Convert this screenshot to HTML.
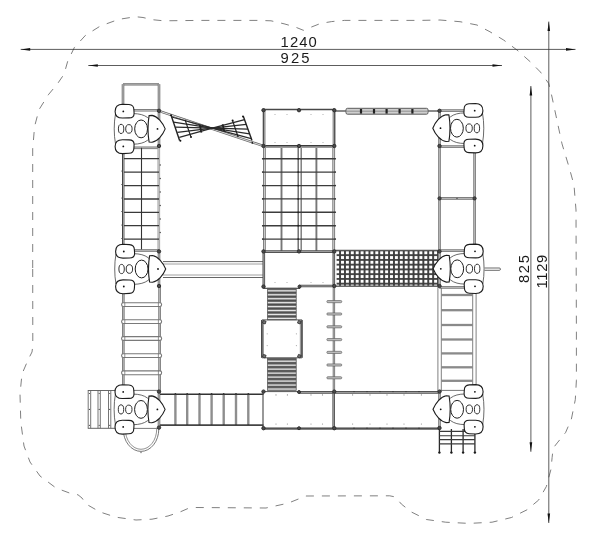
<!DOCTYPE html>
<html><head><meta charset="utf-8"><title>Plan</title>
<style>
html,body{margin:0;padding:0;background:#fff;}
body{width:600px;height:538px;overflow:hidden;font-family:"Liberation Sans",sans-serif;}
svg{display:block;}
</style></head><body>
<svg width="600" height="538" viewBox="0 0 600 538">
<rect width="600" height="538" fill="#fff"/>
<path d="M32.7,268 L32.7,148.7 L34.6,126.4 L39,109.7 L48.3,94.8 L57.6,83.6 L64,74.3 L67.7,61.3 L74.3,47.6 L85.5,35.3 L100.4,26 L119,19.3 L135.7,16.7 L143,17.5 L152.4,19.7 L163.6,20.8 L200,20.4 L258,20.4 L271,20.8 L284,23.8 L294.7,26.8 L303.4,30.3 L312,26.8 L320.7,23.4 L331.5,21.6 L344.5,20.4 L420,20.4 L440,20 L460,21.7 L477,25 L490,31.8 L503.6,40 L517,50 L530.4,61.9 L540.4,72 L548.8,83.6 L552,97 L557,120.4 L562,143.8 L569,167 L574,185 L576,210 L576.4,330 L576.4,380.3 L575.3,399.6 L571.4,419 L565.6,432.5 L557.9,442.1 L553.2,448 L552.1,457.6 L551,469.2 L546.3,486.6 L538.6,500.1 L527,509.8 L511.5,517.5 L492.1,522.2 L469,523.4 L445.7,522.2 L426.4,519.5 L411,511.8 L401.3,504 L395.5,497 L389.7,495.8 L306,496 L288,503.2 L266,508 L196,507.5 L188,508.5 L180,512 L168,516 L152,519.2 L136,520 L116,517.2 L100,512 L86,504 L82,498 L78,494.8 L70,493.2 L56,488 L40,476 L30,462 L24,446 L20.8,422 L20,394 L22,374 L28,360 L32,352 L32.8,346 L32.7,268" fill="none" stroke="#555" stroke-width="0.75" stroke-dasharray="8 8" stroke-linejoin="round"/>
<line x1="20.70" y1="49.40" x2="575.50" y2="49.40" stroke="#333" stroke-width="0.8" />
<polygon points="20.70,49.40 30.20,48.10 30.20,50.70" fill="#111"/>
<polygon points="575.50,49.40 566.00,50.70 566.00,48.10" fill="#111"/>
<line x1="88.30" y1="65.50" x2="502.00" y2="65.50" stroke="#333" stroke-width="0.8" />
<polygon points="88.30,65.50 97.80,64.20 97.80,66.80" fill="#111"/>
<polygon points="502.00,65.50 492.50,66.80 492.50,64.20" fill="#111"/>
<line x1="548.80" y1="21.60" x2="548.80" y2="523.00" stroke="#333" stroke-width="0.8" />
<polygon points="548.80,21.60 550.10,31.10 547.50,31.10" fill="#111"/>
<polygon points="548.80,523.00 547.50,513.50 550.10,513.50" fill="#111"/>
<line x1="530.90" y1="86.00" x2="530.90" y2="451.80" stroke="#333" stroke-width="0.8" />
<polygon points="530.90,86.00 532.20,95.50 529.60,95.50" fill="#111"/>
<polygon points="530.90,451.80 529.60,442.30 532.20,442.30" fill="#111"/>
<g style="filter:grayscale(1)">
<text x="280.6" y="46.8" font-family="Liberation Sans, sans-serif" font-size="14.8" fill="#1a1a1a" letter-spacing="1.1">1240</text>
<text x="280.6" y="63.2" font-family="Liberation Sans, sans-serif" font-size="14.8" fill="#1a1a1a" letter-spacing="2.1">925</text>
<text transform="translate(528.9,283.0) rotate(-90)" font-family="Liberation Sans, sans-serif" font-size="14.8" fill="#1a1a1a" letter-spacing="1.6">825</text>
<text transform="translate(546.6,288.6) rotate(-90)" font-family="Liberation Sans, sans-serif" font-size="14.8" fill="#1a1a1a" letter-spacing="0.7">1129</text>
</g>
<line x1="123.00" y1="84.20" x2="159.00" y2="84.20" stroke="#6e6e6e" stroke-width="2.6" stroke-linecap="butt"/>
<line x1="123.00" y1="84.20" x2="159.00" y2="84.20" stroke="#b4b4b4" stroke-width="1.2" stroke-linecap="butt"/>
<line x1="123.00" y1="84.20" x2="123.00" y2="110.50" stroke="#6e6e6e" stroke-width="2.6" stroke-linecap="butt"/>
<line x1="123.00" y1="84.20" x2="123.00" y2="110.50" stroke="#b4b4b4" stroke-width="1.2" stroke-linecap="butt"/>
<line x1="159.00" y1="84.20" x2="159.00" y2="110.50" stroke="#6e6e6e" stroke-width="2.6" stroke-linecap="butt"/>
<line x1="159.00" y1="84.20" x2="159.00" y2="110.50" stroke="#b4b4b4" stroke-width="1.2" stroke-linecap="butt"/>
<line x1="123.00" y1="110.30" x2="159.00" y2="110.30" stroke="#6e6e6e" stroke-width="2.6" stroke-linecap="butt"/>
<line x1="123.00" y1="110.30" x2="159.00" y2="110.30" stroke="#b4b4b4" stroke-width="1.2" stroke-linecap="butt"/>
<line x1="159.00" y1="110.80" x2="159.00" y2="146.00" stroke="#6e6e6e" stroke-width="2.6" stroke-linecap="butt"/>
<line x1="159.00" y1="110.80" x2="159.00" y2="146.00" stroke="#b4b4b4" stroke-width="1.2" stroke-linecap="butt"/>
<line x1="131.00" y1="147.80" x2="159.00" y2="147.80" stroke="#6e6e6e" stroke-width="2.6" stroke-linecap="butt"/>
<line x1="131.00" y1="147.80" x2="159.00" y2="147.80" stroke="#b4b4b4" stroke-width="1.2" stroke-linecap="butt"/>
<line x1="123.40" y1="150.00" x2="123.40" y2="250.00" stroke="#9c9c9c" stroke-width="2.8"/>
<line x1="122.50" y1="150.00" x2="122.50" y2="250.00" stroke="#444" stroke-width="1.0"/>
<line x1="158.80" y1="146.00" x2="158.80" y2="251.40" stroke="#9a9a9a" stroke-width="2.6" stroke-linecap="butt"/>
<line x1="158.80" y1="146.00" x2="158.80" y2="251.40" stroke="#c4c4c4" stroke-width="1.4" stroke-linecap="butt"/>
<line x1="124.00" y1="158.60" x2="159.00" y2="158.60" stroke="#3a3a3a" stroke-width="1.3" />
<line x1="124.00" y1="172.20" x2="159.00" y2="172.20" stroke="#3a3a3a" stroke-width="1.3" />
<line x1="124.00" y1="185.70" x2="159.00" y2="185.70" stroke="#3a3a3a" stroke-width="1.3" />
<line x1="124.00" y1="199.00" x2="159.00" y2="199.00" stroke="#3a3a3a" stroke-width="1.3" />
<line x1="124.00" y1="212.30" x2="159.00" y2="212.30" stroke="#3a3a3a" stroke-width="1.3" />
<line x1="124.00" y1="225.70" x2="159.00" y2="225.70" stroke="#3a3a3a" stroke-width="1.3" />
<line x1="124.00" y1="239.10" x2="159.00" y2="239.10" stroke="#3a3a3a" stroke-width="1.3" />
<line x1="141.50" y1="147.80" x2="141.50" y2="250.50" stroke="#333" stroke-width="1.1" />
<line x1="131.00" y1="250.50" x2="159.00" y2="250.50" stroke="#6e6e6e" stroke-width="2.6" stroke-linecap="butt"/>
<line x1="131.00" y1="250.50" x2="159.00" y2="250.50" stroke="#b4b4b4" stroke-width="1.2" stroke-linecap="butt"/>
<circle cx="160.20" cy="165.00" r="0.7" fill="#444"/>
<circle cx="121.80" cy="171.00" r="0.6" fill="#555"/>
<circle cx="160.20" cy="178.50" r="0.7" fill="#444"/>
<circle cx="121.80" cy="184.50" r="0.6" fill="#555"/>
<circle cx="160.20" cy="192.00" r="0.7" fill="#444"/>
<circle cx="121.80" cy="198.00" r="0.6" fill="#555"/>
<circle cx="160.20" cy="205.50" r="0.7" fill="#444"/>
<circle cx="121.80" cy="211.50" r="0.6" fill="#555"/>
<circle cx="160.20" cy="219.00" r="0.7" fill="#444"/>
<circle cx="121.80" cy="225.00" r="0.6" fill="#555"/>
<circle cx="160.20" cy="232.50" r="0.7" fill="#444"/>
<circle cx="121.80" cy="238.50" r="0.6" fill="#555"/>
<line x1="163.00" y1="261.60" x2="263.50" y2="261.60" stroke="#555" stroke-width="0.9" />
<line x1="163.00" y1="264.00" x2="263.50" y2="264.00" stroke="#888" stroke-width="0.8" />
<line x1="163.00" y1="275.00" x2="263.50" y2="275.00" stroke="#888" stroke-width="0.8" />
<line x1="163.00" y1="277.50" x2="263.50" y2="277.50" stroke="#555" stroke-width="0.9" />
<line x1="159.00" y1="251.40" x2="159.00" y2="286.00" stroke="#6e6e6e" stroke-width="2.6" stroke-linecap="butt"/>
<line x1="159.00" y1="251.40" x2="159.00" y2="286.00" stroke="#b4b4b4" stroke-width="1.2" stroke-linecap="butt"/>
<line x1="123.30" y1="290.00" x2="123.30" y2="388.00" stroke="#6e6e6e" stroke-width="2.6" stroke-linecap="butt"/>
<line x1="123.30" y1="290.00" x2="123.30" y2="388.00" stroke="#b4b4b4" stroke-width="1.2" stroke-linecap="butt"/>
<line x1="159.60" y1="286.00" x2="159.60" y2="391.60" stroke="#6e6e6e" stroke-width="2.6" stroke-linecap="butt"/>
<line x1="159.60" y1="286.00" x2="159.60" y2="391.60" stroke="#b4b4b4" stroke-width="1.2" stroke-linecap="butt"/>
<rect x="121.60" y="302.70" width="40.00" height="3.8" rx="1.7" fill="#fff" stroke="#7a7a7a" stroke-width="1.1"/>
<line x1="124.80" y1="302.70" x2="124.80" y2="306.50" stroke="#666" stroke-width="0.7" />
<line x1="158.40" y1="302.70" x2="158.40" y2="306.50" stroke="#666" stroke-width="0.7" />
<rect x="121.60" y="319.70" width="40.00" height="3.8" rx="1.7" fill="#fff" stroke="#7a7a7a" stroke-width="1.1"/>
<line x1="124.80" y1="319.70" x2="124.80" y2="323.50" stroke="#666" stroke-width="0.7" />
<line x1="158.40" y1="319.70" x2="158.40" y2="323.50" stroke="#666" stroke-width="0.7" />
<rect x="121.60" y="336.60" width="40.00" height="3.8" rx="1.7" fill="#fff" stroke="#7a7a7a" stroke-width="1.1"/>
<line x1="124.80" y1="336.60" x2="124.80" y2="340.40" stroke="#666" stroke-width="0.7" />
<line x1="158.40" y1="336.60" x2="158.40" y2="340.40" stroke="#666" stroke-width="0.7" />
<rect x="121.60" y="353.70" width="40.00" height="3.8" rx="1.7" fill="#fff" stroke="#7a7a7a" stroke-width="1.1"/>
<line x1="124.80" y1="353.70" x2="124.80" y2="357.50" stroke="#666" stroke-width="0.7" />
<line x1="158.40" y1="353.70" x2="158.40" y2="357.50" stroke="#666" stroke-width="0.7" />
<rect x="121.60" y="370.90" width="40.00" height="3.8" rx="1.7" fill="#fff" stroke="#7a7a7a" stroke-width="1.1"/>
<line x1="124.80" y1="370.90" x2="124.80" y2="374.70" stroke="#666" stroke-width="0.7" />
<line x1="158.40" y1="370.90" x2="158.40" y2="374.70" stroke="#666" stroke-width="0.7" />
<line x1="87.80" y1="390.50" x2="116.00" y2="390.50" stroke="#555" stroke-width="0.9" />
<line x1="87.80" y1="428.30" x2="116.00" y2="428.30" stroke="#555" stroke-width="0.9" />
<line x1="132.00" y1="390.40" x2="159.00" y2="390.40" stroke="#666" stroke-width="0.9" />
<line x1="132.00" y1="428.40" x2="159.00" y2="428.40" stroke="#666" stroke-width="0.9" />
<line x1="88.20" y1="390.50" x2="88.20" y2="428.30" stroke="#666" stroke-width="0.9" />
<line x1="90.70" y1="390.50" x2="90.70" y2="428.30" stroke="#666" stroke-width="0.9" />
<line x1="98.00" y1="390.50" x2="98.00" y2="428.30" stroke="#666" stroke-width="0.9" />
<line x1="100.30" y1="390.50" x2="100.30" y2="428.30" stroke="#666" stroke-width="0.9" />
<line x1="108.50" y1="390.50" x2="108.50" y2="428.30" stroke="#666" stroke-width="0.9" />
<line x1="110.80" y1="390.50" x2="110.80" y2="428.30" stroke="#666" stroke-width="0.9" />
<circle cx="89.40" cy="393.50" r="0.6" fill="#444"/>
<circle cx="89.40" cy="409.40" r="0.6" fill="#444"/>
<circle cx="89.40" cy="425.30" r="0.6" fill="#444"/>
<circle cx="99.20" cy="393.50" r="0.6" fill="#444"/>
<circle cx="99.20" cy="409.40" r="0.6" fill="#444"/>
<circle cx="99.20" cy="425.30" r="0.6" fill="#444"/>
<circle cx="109.70" cy="393.50" r="0.6" fill="#444"/>
<circle cx="109.70" cy="409.40" r="0.6" fill="#444"/>
<circle cx="109.70" cy="425.30" r="0.6" fill="#444"/>
<path d="M123.2,429 A17.8,22.4 0 0 0 158.8,429" fill="none" stroke="#555" stroke-width="0.8" />
<path d="M125.3,429 A15.7,20.3 0 0 0 156.7,429" fill="none" stroke="#777" stroke-width="0.8" />
<circle cx="141.00" cy="452.60" r="0.7" fill="#555"/>
<line x1="159.00" y1="391.60" x2="159.00" y2="427.60" stroke="#6e6e6e" stroke-width="2.6" stroke-linecap="butt"/>
<line x1="159.00" y1="391.60" x2="159.00" y2="427.60" stroke="#b4b4b4" stroke-width="1.2" stroke-linecap="butt"/>
<line x1="175.40" y1="394.00" x2="175.40" y2="425.00" stroke="#8e8e8e" stroke-width="2.4" />
<circle cx="175.40" cy="394.00" r="0.9" fill="#333"/>
<circle cx="175.40" cy="425.20" r="0.9" fill="#333"/>
<line x1="187.20" y1="394.00" x2="187.20" y2="425.00" stroke="#8e8e8e" stroke-width="2.4" />
<circle cx="187.20" cy="394.00" r="0.9" fill="#333"/>
<circle cx="187.20" cy="425.20" r="0.9" fill="#333"/>
<line x1="199.50" y1="394.00" x2="199.50" y2="425.00" stroke="#8e8e8e" stroke-width="2.4" />
<circle cx="199.50" cy="394.00" r="0.9" fill="#333"/>
<circle cx="199.50" cy="425.20" r="0.9" fill="#333"/>
<line x1="211.60" y1="394.00" x2="211.60" y2="425.00" stroke="#8e8e8e" stroke-width="2.4" />
<circle cx="211.60" cy="394.00" r="0.9" fill="#333"/>
<circle cx="211.60" cy="425.20" r="0.9" fill="#333"/>
<line x1="223.70" y1="394.00" x2="223.70" y2="425.00" stroke="#8e8e8e" stroke-width="2.4" />
<circle cx="223.70" cy="394.00" r="0.9" fill="#333"/>
<circle cx="223.70" cy="425.20" r="0.9" fill="#333"/>
<line x1="236.00" y1="394.00" x2="236.00" y2="425.00" stroke="#8e8e8e" stroke-width="2.4" />
<circle cx="236.00" cy="394.00" r="0.9" fill="#333"/>
<circle cx="236.00" cy="425.20" r="0.9" fill="#333"/>
<line x1="248.30" y1="394.00" x2="248.30" y2="425.00" stroke="#8e8e8e" stroke-width="2.4" />
<circle cx="248.30" cy="394.00" r="0.9" fill="#333"/>
<circle cx="248.30" cy="425.20" r="0.9" fill="#333"/>
<line x1="160.00" y1="394.20" x2="263.50" y2="394.20" stroke="#333" stroke-width="1.4" />
<line x1="160.00" y1="425.20" x2="263.50" y2="425.20" stroke="#444" stroke-width="1.7" />
<line x1="299.00" y1="392.40" x2="439.50" y2="392.40" stroke="#4c4c4c" stroke-width="2.8" stroke-linecap="butt"/>
<line x1="299.00" y1="392.40" x2="439.50" y2="392.40" stroke="#a4a4a4" stroke-width="1.0" stroke-linecap="butt"/>
<line x1="263.50" y1="391.60" x2="299.00" y2="391.60" stroke="#555" stroke-width="1.0" />
<line x1="263.50" y1="428.20" x2="439.50" y2="428.20" stroke="#9c9c9c" stroke-width="2.4"/>
<line x1="263.50" y1="428.85" x2="439.50" y2="428.85" stroke="#3a3a3a" stroke-width="1.1"/>
<line x1="263.00" y1="391.60" x2="263.00" y2="428.60" stroke="#444" stroke-width="1.1" />
<line x1="333.70" y1="391.60" x2="333.70" y2="428.20" stroke="#4c4c4c" stroke-width="2.6" stroke-linecap="butt"/>
<line x1="333.70" y1="391.60" x2="333.70" y2="428.20" stroke="#a4a4a4" stroke-width="1.0" stroke-linecap="butt"/>
<line x1="439.50" y1="286.00" x2="439.50" y2="428.20" stroke="#6e6e6e" stroke-width="2.6" stroke-linecap="butt"/>
<line x1="439.50" y1="286.00" x2="439.50" y2="428.20" stroke="#b4b4b4" stroke-width="1.2" stroke-linecap="butt"/>
<circle cx="276.00" cy="394.90" r="0.6" fill="#8a8a8a"/>
<circle cx="276.00" cy="424.00" r="0.6" fill="#8a8a8a"/>
<circle cx="287.40" cy="394.90" r="0.6" fill="#8a8a8a"/>
<circle cx="287.40" cy="424.00" r="0.6" fill="#8a8a8a"/>
<circle cx="311.00" cy="394.90" r="0.6" fill="#8a8a8a"/>
<circle cx="311.00" cy="424.00" r="0.6" fill="#8a8a8a"/>
<circle cx="322.50" cy="394.90" r="0.6" fill="#8a8a8a"/>
<circle cx="322.50" cy="424.00" r="0.6" fill="#8a8a8a"/>
<circle cx="352.60" cy="394.90" r="0.6" fill="#8a8a8a"/>
<circle cx="352.60" cy="424.00" r="0.6" fill="#8a8a8a"/>
<circle cx="370.00" cy="394.90" r="0.6" fill="#8a8a8a"/>
<circle cx="370.00" cy="424.00" r="0.6" fill="#8a8a8a"/>
<circle cx="387.00" cy="394.90" r="0.6" fill="#8a8a8a"/>
<circle cx="387.00" cy="424.00" r="0.6" fill="#8a8a8a"/>
<circle cx="404.00" cy="394.90" r="0.6" fill="#8a8a8a"/>
<circle cx="404.00" cy="424.00" r="0.6" fill="#8a8a8a"/>
<circle cx="421.40" cy="394.90" r="0.6" fill="#8a8a8a"/>
<circle cx="421.40" cy="424.00" r="0.6" fill="#8a8a8a"/>
<circle cx="354.00" cy="391.60" r="0.7" fill="#333"/>
<circle cx="354.00" cy="428.20" r="0.7" fill="#333"/>
<circle cx="367.00" cy="391.60" r="0.7" fill="#333"/>
<circle cx="367.00" cy="428.20" r="0.7" fill="#333"/>
<circle cx="380.00" cy="391.60" r="0.7" fill="#333"/>
<circle cx="380.00" cy="428.20" r="0.7" fill="#333"/>
<circle cx="393.00" cy="391.60" r="0.7" fill="#333"/>
<circle cx="393.00" cy="428.20" r="0.7" fill="#333"/>
<circle cx="406.00" cy="391.60" r="0.7" fill="#333"/>
<circle cx="406.00" cy="428.20" r="0.7" fill="#333"/>
<circle cx="419.00" cy="391.60" r="0.7" fill="#333"/>
<circle cx="419.00" cy="428.20" r="0.7" fill="#333"/>
<rect x="267.5" y="288.2" width="28.69999999999999" height="31.600000000000023" fill="#6c6c6c" stroke="#555" stroke-width="0.7"/>
<line x1="267.50" y1="288.70" x2="296.20" y2="288.70" stroke="#4a4a4a" stroke-width="0.9" />
<line x1="267.90" y1="290.81" x2="295.80" y2="290.81" stroke="#e4e4e4" stroke-width="1.25" />
<line x1="267.50" y1="292.65" x2="296.20" y2="292.65" stroke="#4a4a4a" stroke-width="0.9" />
<line x1="267.90" y1="294.76" x2="295.80" y2="294.76" stroke="#e4e4e4" stroke-width="1.25" />
<line x1="267.50" y1="296.60" x2="296.20" y2="296.60" stroke="#4a4a4a" stroke-width="0.9" />
<line x1="267.90" y1="298.71" x2="295.80" y2="298.71" stroke="#e4e4e4" stroke-width="1.25" />
<line x1="267.50" y1="300.55" x2="296.20" y2="300.55" stroke="#4a4a4a" stroke-width="0.9" />
<line x1="267.90" y1="302.66" x2="295.80" y2="302.66" stroke="#e4e4e4" stroke-width="1.25" />
<line x1="267.50" y1="304.50" x2="296.20" y2="304.50" stroke="#4a4a4a" stroke-width="0.9" />
<line x1="267.90" y1="306.61" x2="295.80" y2="306.61" stroke="#e4e4e4" stroke-width="1.25" />
<line x1="267.50" y1="308.45" x2="296.20" y2="308.45" stroke="#4a4a4a" stroke-width="0.9" />
<line x1="267.90" y1="310.56" x2="295.80" y2="310.56" stroke="#e4e4e4" stroke-width="1.25" />
<line x1="267.50" y1="312.40" x2="296.20" y2="312.40" stroke="#4a4a4a" stroke-width="0.9" />
<line x1="267.90" y1="314.51" x2="295.80" y2="314.51" stroke="#e4e4e4" stroke-width="1.25" />
<line x1="267.50" y1="316.35" x2="296.20" y2="316.35" stroke="#4a4a4a" stroke-width="0.9" />
<line x1="267.90" y1="318.46" x2="295.80" y2="318.46" stroke="#e4e4e4" stroke-width="1.25" />
<rect x="267.5" y="358.6" width="28.69999999999999" height="31.799999999999955" fill="#6c6c6c" stroke="#555" stroke-width="0.7"/>
<line x1="267.50" y1="359.10" x2="296.20" y2="359.10" stroke="#4a4a4a" stroke-width="0.9" />
<line x1="267.90" y1="361.22" x2="295.80" y2="361.22" stroke="#e4e4e4" stroke-width="1.25" />
<line x1="267.50" y1="363.08" x2="296.20" y2="363.08" stroke="#4a4a4a" stroke-width="0.9" />
<line x1="267.90" y1="365.20" x2="295.80" y2="365.20" stroke="#e4e4e4" stroke-width="1.25" />
<line x1="267.50" y1="367.05" x2="296.20" y2="367.05" stroke="#4a4a4a" stroke-width="0.9" />
<line x1="267.90" y1="369.17" x2="295.80" y2="369.17" stroke="#e4e4e4" stroke-width="1.25" />
<line x1="267.50" y1="371.02" x2="296.20" y2="371.02" stroke="#4a4a4a" stroke-width="0.9" />
<line x1="267.90" y1="373.15" x2="295.80" y2="373.15" stroke="#e4e4e4" stroke-width="1.25" />
<line x1="267.50" y1="375.00" x2="296.20" y2="375.00" stroke="#4a4a4a" stroke-width="0.9" />
<line x1="267.90" y1="377.12" x2="295.80" y2="377.12" stroke="#e4e4e4" stroke-width="1.25" />
<line x1="267.50" y1="378.98" x2="296.20" y2="378.98" stroke="#4a4a4a" stroke-width="0.9" />
<line x1="267.90" y1="381.10" x2="295.80" y2="381.10" stroke="#e4e4e4" stroke-width="1.25" />
<line x1="267.50" y1="382.95" x2="296.20" y2="382.95" stroke="#4a4a4a" stroke-width="0.9" />
<line x1="267.90" y1="385.07" x2="295.80" y2="385.07" stroke="#e4e4e4" stroke-width="1.25" />
<line x1="267.50" y1="386.92" x2="296.20" y2="386.92" stroke="#4a4a4a" stroke-width="0.9" />
<line x1="267.90" y1="389.05" x2="295.80" y2="389.05" stroke="#e4e4e4" stroke-width="1.25" />
<line x1="262.00" y1="319.90" x2="302.00" y2="319.90" stroke="#555" stroke-width="1.0" />
<line x1="262.00" y1="357.80" x2="302.00" y2="357.80" stroke="#555" stroke-width="1.0" />
<line x1="262.60" y1="319.90" x2="262.60" y2="357.80" stroke="#9c9c9c" stroke-width="2.8"/>
<line x1="261.80" y1="319.90" x2="261.80" y2="357.80" stroke="#333" stroke-width="1.2"/>
<line x1="301.20" y1="319.90" x2="301.20" y2="357.80" stroke="#9c9c9c" stroke-width="2.8"/>
<line x1="302.00" y1="319.90" x2="302.00" y2="357.80" stroke="#333" stroke-width="1.2"/>
<rect x="262.90" y="320.80" width="2.8" height="2.8" fill="#777" stroke="#333" stroke-width="0.8" transform="rotate(20 264.3 322.2)"/>
<rect x="297.90" y="320.80" width="2.8" height="2.8" fill="#777" stroke="#333" stroke-width="0.8" transform="rotate(20 299.3 322.2)"/>
<rect x="262.90" y="354.80" width="2.8" height="2.8" fill="#777" stroke="#333" stroke-width="0.8" transform="rotate(20 264.3 356.2)"/>
<rect x="297.90" y="354.80" width="2.8" height="2.8" fill="#777" stroke="#333" stroke-width="0.8" transform="rotate(20 299.3 356.2)"/>
<circle cx="267.20" cy="333.80" r="0.6" fill="#aaa"/>
<circle cx="296.40" cy="333.80" r="0.6" fill="#aaa"/>
<circle cx="267.20" cy="345.60" r="0.6" fill="#aaa"/>
<circle cx="296.40" cy="345.60" r="0.6" fill="#aaa"/>
<line x1="264.40" y1="146.00" x2="264.40" y2="251.40" stroke="#777" stroke-width="2.8" stroke-linecap="butt"/>
<line x1="264.40" y1="146.00" x2="264.40" y2="251.40" stroke="#ddd" stroke-width="0.9" stroke-linecap="butt"/>
<line x1="333.70" y1="146.00" x2="333.70" y2="251.40" stroke="#777" stroke-width="2.8" stroke-linecap="butt"/>
<line x1="333.70" y1="146.00" x2="333.70" y2="251.40" stroke="#ddd" stroke-width="0.9" stroke-linecap="butt"/>
<line x1="281.50" y1="146.00" x2="281.50" y2="251.40" stroke="#777" stroke-width="1.9" />
<line x1="316.40" y1="146.00" x2="316.40" y2="251.40" stroke="#777" stroke-width="1.9" />
<line x1="298.20" y1="146.00" x2="298.20" y2="251.40" stroke="#666" stroke-width="1.4" />
<line x1="301.20" y1="146.00" x2="301.20" y2="251.40" stroke="#777" stroke-width="1.4" />
<line x1="262.50" y1="158.80" x2="335.30" y2="158.80" stroke="#3c3c3c" stroke-width="1.4" />
<circle cx="298.20" cy="158.80" r="0.9" fill="#222"/>
<circle cx="262.70" cy="158.80" r="0.8" fill="#333"/>
<circle cx="335.30" cy="158.80" r="0.8" fill="#333"/>
<line x1="262.50" y1="172.10" x2="335.30" y2="172.10" stroke="#3c3c3c" stroke-width="1.4" />
<circle cx="298.20" cy="172.10" r="0.9" fill="#222"/>
<circle cx="262.70" cy="172.10" r="0.8" fill="#333"/>
<circle cx="335.30" cy="172.10" r="0.8" fill="#333"/>
<line x1="262.50" y1="185.60" x2="335.30" y2="185.60" stroke="#3c3c3c" stroke-width="1.4" />
<circle cx="298.20" cy="185.60" r="0.9" fill="#222"/>
<circle cx="262.70" cy="185.60" r="0.8" fill="#333"/>
<circle cx="335.30" cy="185.60" r="0.8" fill="#333"/>
<line x1="262.50" y1="198.90" x2="335.30" y2="198.90" stroke="#3c3c3c" stroke-width="1.4" />
<circle cx="298.20" cy="198.90" r="0.9" fill="#222"/>
<circle cx="262.70" cy="198.90" r="0.8" fill="#333"/>
<circle cx="335.30" cy="198.90" r="0.8" fill="#333"/>
<line x1="262.50" y1="212.30" x2="335.30" y2="212.30" stroke="#3c3c3c" stroke-width="1.4" />
<circle cx="298.20" cy="212.30" r="0.9" fill="#222"/>
<circle cx="262.70" cy="212.30" r="0.8" fill="#333"/>
<circle cx="335.30" cy="212.30" r="0.8" fill="#333"/>
<line x1="262.50" y1="225.70" x2="335.30" y2="225.70" stroke="#3c3c3c" stroke-width="1.4" />
<circle cx="298.20" cy="225.70" r="0.9" fill="#222"/>
<circle cx="262.70" cy="225.70" r="0.8" fill="#333"/>
<circle cx="335.30" cy="225.70" r="0.8" fill="#333"/>
<line x1="262.50" y1="239.10" x2="335.30" y2="239.10" stroke="#3c3c3c" stroke-width="1.4" />
<circle cx="298.20" cy="239.10" r="0.9" fill="#222"/>
<circle cx="262.70" cy="239.10" r="0.8" fill="#333"/>
<circle cx="335.30" cy="239.10" r="0.8" fill="#333"/>
<line x1="262.70" y1="109.50" x2="335.10" y2="109.50" stroke="#484848" stroke-width="1.5" />
<line x1="262.90" y1="146.50" x2="334.90" y2="146.50" stroke="#9c9c9c" stroke-width="2.8"/>
<line x1="262.90" y1="145.70" x2="334.90" y2="145.70" stroke="#3a3a3a" stroke-width="1.2"/>
<line x1="264.20" y1="109.60" x2="264.20" y2="146.00" stroke="#9c9c9c" stroke-width="2.8"/>
<line x1="263.35" y1="109.60" x2="263.35" y2="146.00" stroke="#444" stroke-width="1.1"/>
<line x1="333.90" y1="109.60" x2="333.90" y2="146.00" stroke="#9c9c9c" stroke-width="2.8"/>
<line x1="334.75" y1="109.60" x2="334.75" y2="146.00" stroke="#444" stroke-width="1.1"/>
<circle cx="275.00" cy="114.50" r="0.5" fill="#999"/>
<circle cx="275.00" cy="142.50" r="0.5" fill="#999"/>
<circle cx="287.00" cy="114.50" r="0.5" fill="#999"/>
<circle cx="287.00" cy="142.50" r="0.5" fill="#999"/>
<circle cx="311.00" cy="114.50" r="0.5" fill="#999"/>
<circle cx="311.00" cy="142.50" r="0.5" fill="#999"/>
<circle cx="323.00" cy="114.50" r="0.5" fill="#999"/>
<circle cx="323.00" cy="142.50" r="0.5" fill="#999"/>
<line x1="263.50" y1="251.60" x2="334.30" y2="251.60" stroke="#4c4c4c" stroke-width="2.8" stroke-linecap="butt"/>
<line x1="263.50" y1="251.60" x2="334.30" y2="251.60" stroke="#a4a4a4" stroke-width="1.0" stroke-linecap="butt"/>
<line x1="263.80" y1="251.40" x2="263.80" y2="288.40" stroke="#4c4c4c" stroke-width="2.6" stroke-linecap="butt"/>
<line x1="263.80" y1="251.40" x2="263.80" y2="288.40" stroke="#a4a4a4" stroke-width="1.0" stroke-linecap="butt"/>
<line x1="333.80" y1="251.40" x2="333.80" y2="286.00" stroke="#4c4c4c" stroke-width="2.6" stroke-linecap="butt"/>
<line x1="333.80" y1="251.40" x2="333.80" y2="286.00" stroke="#a4a4a4" stroke-width="1.0" stroke-linecap="butt"/>
<line x1="299.00" y1="286.00" x2="334.30" y2="286.00" stroke="#4c4c4c" stroke-width="2.6" stroke-linecap="butt"/>
<line x1="299.00" y1="286.00" x2="334.30" y2="286.00" stroke="#a4a4a4" stroke-width="1.0" stroke-linecap="butt"/>
<line x1="263.50" y1="288.40" x2="300.00" y2="288.40" stroke="#555" stroke-width="1.2" />
<line x1="299.60" y1="286.00" x2="299.60" y2="288.60" stroke="#555" stroke-width="1.2" />
<circle cx="275.00" cy="282.50" r="0.5" fill="#999"/>
<circle cx="287.00" cy="282.50" r="0.5" fill="#999"/>
<circle cx="311.00" cy="282.50" r="0.5" fill="#999"/>
<circle cx="323.00" cy="282.50" r="0.5" fill="#999"/>
<line x1="334.30" y1="111.10" x2="439.50" y2="111.10" stroke="#8a8a8a" stroke-width="2.0" />
<rect x="346" y="108.3" width="82" height="5.9" rx="1.5" fill="#cfcfcf" stroke="#5a5a5a" stroke-width="1.0"/>
<line x1="347.00" y1="111.20" x2="427.00" y2="111.20" stroke="#8a8a8a" stroke-width="0.9" />
<line x1="361.00" y1="109.00" x2="361.00" y2="113.60" stroke="#222" stroke-width="2.2" />
<line x1="374.00" y1="109.00" x2="374.00" y2="113.60" stroke="#222" stroke-width="2.2" />
<line x1="386.60" y1="109.00" x2="386.60" y2="113.60" stroke="#222" stroke-width="2.2" />
<line x1="399.60" y1="109.00" x2="399.60" y2="113.60" stroke="#222" stroke-width="2.2" />
<line x1="412.40" y1="109.00" x2="412.40" y2="113.60" stroke="#222" stroke-width="2.2" />
<line x1="439.50" y1="110.80" x2="439.50" y2="251.40" stroke="#6e6e6e" stroke-width="2.6" stroke-linecap="butt"/>
<line x1="439.50" y1="110.80" x2="439.50" y2="251.40" stroke="#b4b4b4" stroke-width="1.2" stroke-linecap="butt"/>
<line x1="474.60" y1="150.00" x2="474.60" y2="248.00" stroke="#6e6e6e" stroke-width="2.6" stroke-linecap="butt"/>
<line x1="474.60" y1="150.00" x2="474.60" y2="248.00" stroke="#b4b4b4" stroke-width="1.2" stroke-linecap="butt"/>
<line x1="439.50" y1="198.40" x2="474.60" y2="198.40" stroke="#6e6e6e" stroke-width="2.6" stroke-linecap="butt"/>
<line x1="439.50" y1="198.40" x2="474.60" y2="198.40" stroke="#b4b4b4" stroke-width="1.2" stroke-linecap="butt"/>
<line x1="439.50" y1="146.60" x2="466.60" y2="146.60" stroke="#6e6e6e" stroke-width="2.6" stroke-linecap="butt"/>
<line x1="439.50" y1="146.60" x2="466.60" y2="146.60" stroke="#b4b4b4" stroke-width="1.2" stroke-linecap="butt"/>
<line x1="439.50" y1="110.60" x2="466.60" y2="110.60" stroke="#6e6e6e" stroke-width="2.6" stroke-linecap="butt"/>
<line x1="439.50" y1="110.60" x2="466.60" y2="110.60" stroke="#b4b4b4" stroke-width="1.2" stroke-linecap="butt"/>
<line x1="439.50" y1="251.40" x2="439.50" y2="286.00" stroke="#6e6e6e" stroke-width="2.6" stroke-linecap="butt"/>
<line x1="439.50" y1="251.40" x2="439.50" y2="286.00" stroke="#b4b4b4" stroke-width="1.2" stroke-linecap="butt"/>
<line x1="439.50" y1="250.60" x2="466.60" y2="250.60" stroke="#6e6e6e" stroke-width="2.6" stroke-linecap="butt"/>
<line x1="439.50" y1="250.60" x2="466.60" y2="250.60" stroke="#b4b4b4" stroke-width="1.2" stroke-linecap="butt"/>
<circle cx="439.50" cy="198.40" r="1.6" fill="#4a4a4a" stroke="#2a2a2a" stroke-width="0.9"/>
<circle cx="474.60" cy="198.40" r="1.6" fill="#4a4a4a" stroke="#2a2a2a" stroke-width="0.9"/>
<circle cx="457.00" cy="198.40" r="0.6" fill="#333"/>
<defs><pattern id="mesh" x="335.15" y="250.4" width="4.9" height="4.75" patternUnits="userSpaceOnUse"><rect width="4.9" height="4.75" fill="#3c3c3c"/><rect x="0.95" y="0.9" width="3.0" height="2.95" fill="#fff"/></pattern></defs>
<rect x="336.6" y="250.2" width="101.6" height="35.8" fill="url(#mesh)"/>
<line x1="334.30" y1="250.40" x2="439.50" y2="250.40" stroke="#555" stroke-width="1.2" />
<line x1="334.30" y1="286.30" x2="439.50" y2="286.30" stroke="#666" stroke-width="1.4" />
<line x1="484.50" y1="268.00" x2="499.30" y2="268.00" stroke="#2a2a2a" stroke-width="0.7" />
<line x1="484.50" y1="270.30" x2="499.30" y2="270.30" stroke="#2a2a2a" stroke-width="0.7" />
<path d="M499.3,268 A1.15,1.15 0 0 1 499.3,270.3" fill="none" stroke="#2a2a2a" stroke-width="0.7" />
<line x1="439.60" y1="286.00" x2="439.60" y2="391.60" stroke="#808080" stroke-width="4.4" stroke-linecap="butt"/>
<line x1="439.60" y1="286.00" x2="439.60" y2="391.60" stroke="#fff" stroke-width="2.4" stroke-linecap="butt"/>
<line x1="474.40" y1="292.00" x2="474.40" y2="386.00" stroke="#808080" stroke-width="4.4" stroke-linecap="butt"/>
<line x1="474.40" y1="292.00" x2="474.40" y2="386.00" stroke="#fff" stroke-width="2.4" stroke-linecap="butt"/>
<line x1="441.10" y1="295.00" x2="472.90" y2="295.00" stroke="#8a8a8a" stroke-width="2.3" />
<line x1="441.10" y1="310.20" x2="472.90" y2="310.20" stroke="#8a8a8a" stroke-width="2.3" />
<line x1="441.10" y1="325.00" x2="472.90" y2="325.00" stroke="#8a8a8a" stroke-width="2.3" />
<line x1="441.10" y1="339.50" x2="472.90" y2="339.50" stroke="#8a8a8a" stroke-width="2.3" />
<line x1="441.10" y1="353.40" x2="472.90" y2="353.40" stroke="#8a8a8a" stroke-width="2.3" />
<line x1="441.10" y1="367.30" x2="472.90" y2="367.30" stroke="#8a8a8a" stroke-width="2.3" />
<line x1="441.10" y1="380.80" x2="472.90" y2="380.80" stroke="#8a8a8a" stroke-width="2.3" />
<line x1="439.50" y1="287.40" x2="466.60" y2="287.40" stroke="#6e6e6e" stroke-width="2.6" stroke-linecap="butt"/>
<line x1="439.50" y1="287.40" x2="466.60" y2="287.40" stroke="#b4b4b4" stroke-width="1.2" stroke-linecap="butt"/>
<line x1="439.50" y1="390.40" x2="466.60" y2="390.40" stroke="#666" stroke-width="0.9" />
<line x1="439.40" y1="429.00" x2="439.40" y2="452.00" stroke="#2a2a2a" stroke-width="1.3" />
<circle cx="439.40" cy="452.60" r="1.2" fill="#1a1a1a"/>
<line x1="451.40" y1="429.00" x2="451.40" y2="452.00" stroke="#2a2a2a" stroke-width="1.3" />
<circle cx="451.40" cy="452.60" r="1.2" fill="#1a1a1a"/>
<line x1="463.10" y1="429.00" x2="463.10" y2="452.00" stroke="#2a2a2a" stroke-width="1.3" />
<circle cx="463.10" cy="452.60" r="1.2" fill="#1a1a1a"/>
<line x1="474.90" y1="429.00" x2="474.90" y2="452.00" stroke="#2a2a2a" stroke-width="1.3" />
<circle cx="474.90" cy="452.60" r="1.2" fill="#1a1a1a"/>
<line x1="439.40" y1="431.40" x2="474.90" y2="431.40" stroke="#3a3a3a" stroke-width="1.1" />
<line x1="439.40" y1="435.80" x2="474.90" y2="435.80" stroke="#3a3a3a" stroke-width="1.1" />
<line x1="439.40" y1="439.60" x2="474.90" y2="439.60" stroke="#3a3a3a" stroke-width="1.1" />
<line x1="439.40" y1="443.90" x2="474.90" y2="443.90" stroke="#3a3a3a" stroke-width="1.1" />
<line x1="333.90" y1="286.00" x2="333.90" y2="391.60" stroke="#6e6e6e" stroke-width="2.4" stroke-linecap="butt"/>
<line x1="333.90" y1="286.00" x2="333.90" y2="391.60" stroke="#b4b4b4" stroke-width="1.0" stroke-linecap="butt"/>
<rect x="326.8" y="300.50" width="15" height="2.2" rx="1.1" fill="#bbb" stroke="#555" stroke-width="0.6"/>
<rect x="326.8" y="312.90" width="15" height="2.2" rx="1.1" fill="#bbb" stroke="#555" stroke-width="0.6"/>
<rect x="326.8" y="325.70" width="15" height="2.2" rx="1.1" fill="#bbb" stroke="#555" stroke-width="0.6"/>
<rect x="326.8" y="338.50" width="15" height="2.2" rx="1.1" fill="#bbb" stroke="#555" stroke-width="0.6"/>
<rect x="326.8" y="351.30" width="15" height="2.2" rx="1.1" fill="#bbb" stroke="#555" stroke-width="0.6"/>
<rect x="326.8" y="363.90" width="15" height="2.2" rx="1.1" fill="#bbb" stroke="#555" stroke-width="0.6"/>
<rect x="326.8" y="376.70" width="15" height="2.2" rx="1.1" fill="#bbb" stroke="#555" stroke-width="0.6"/>
<line x1="159.50" y1="111.20" x2="264.00" y2="146.20" stroke="#666" stroke-width="2.4" stroke-linecap="butt"/>
<line x1="159.50" y1="111.20" x2="264.00" y2="146.20" stroke="#ddd" stroke-width="1.0" stroke-linecap="butt"/>
<line x1="212.30" y1="128.20" x2="171.60" y2="117.00" stroke="#2a2a2a" stroke-width="1.25" />
<line x1="212.30" y1="128.20" x2="173.53" y2="122.10" stroke="#2a2a2a" stroke-width="1.25" />
<line x1="212.30" y1="128.20" x2="175.45" y2="127.20" stroke="#2a2a2a" stroke-width="1.25" />
<line x1="212.30" y1="128.20" x2="177.38" y2="132.30" stroke="#2a2a2a" stroke-width="1.25" />
<line x1="212.30" y1="128.20" x2="179.30" y2="137.40" stroke="#2a2a2a" stroke-width="1.25" />
<line x1="171.00" y1="115.10" x2="179.60" y2="140.40" stroke="#222" stroke-width="1.4" />
<line x1="185.00" y1="119.60" x2="190.80" y2="136.60" stroke="#222" stroke-width="1.2" />
<line x1="199.80" y1="125.00" x2="201.40" y2="132.60" stroke="#222" stroke-width="1.8" />
<circle cx="180.40" cy="140.80" r="1.0" fill="#111"/>
<circle cx="191.00" cy="137.00" r="1.0" fill="#111"/>
<circle cx="171.00" cy="115.20" r="0.9" fill="#111"/>
<line x1="212.30" y1="128.20" x2="244.60" y2="119.60" stroke="#2a2a2a" stroke-width="1.25" />
<line x1="212.30" y1="128.20" x2="246.25" y2="124.35" stroke="#2a2a2a" stroke-width="1.25" />
<line x1="212.30" y1="128.20" x2="247.90" y2="129.10" stroke="#2a2a2a" stroke-width="1.25" />
<line x1="212.30" y1="128.20" x2="249.55" y2="133.85" stroke="#2a2a2a" stroke-width="1.25" />
<line x1="212.30" y1="128.20" x2="251.20" y2="138.60" stroke="#2a2a2a" stroke-width="1.25" />
<line x1="243.40" y1="116.60" x2="252.00" y2="140.60" stroke="#222" stroke-width="1.4" />
<line x1="232.60" y1="120.60" x2="238.20" y2="137.20" stroke="#222" stroke-width="1.2" />
<line x1="222.60" y1="124.20" x2="224.20" y2="131.40" stroke="#222" stroke-width="1.8" />
<circle cx="243.00" cy="116.60" r="1.0" fill="#111"/>
<circle cx="232.60" cy="120.40" r="1.0" fill="#111"/>
<circle cx="252.30" cy="142.80" r="0.9" fill="#111"/>
<circle cx="159.00" cy="110.80" r="1.7" fill="#4a4a4a" stroke="#2a2a2a" stroke-width="0.9"/>
<circle cx="159.00" cy="146.00" r="1.7" fill="#4a4a4a" stroke="#2a2a2a" stroke-width="0.9"/>
<circle cx="159.00" cy="251.40" r="1.7" fill="#4a4a4a" stroke="#2a2a2a" stroke-width="0.9"/>
<circle cx="159.00" cy="286.00" r="1.7" fill="#4a4a4a" stroke="#2a2a2a" stroke-width="0.9"/>
<circle cx="159.00" cy="391.60" r="1.7" fill="#4a4a4a" stroke="#2a2a2a" stroke-width="0.9"/>
<circle cx="159.00" cy="427.60" r="1.7" fill="#4a4a4a" stroke="#2a2a2a" stroke-width="0.9"/>
<circle cx="263.50" cy="110.20" r="1.7" fill="#4a4a4a" stroke="#2a2a2a" stroke-width="0.9"/>
<circle cx="263.50" cy="146.00" r="1.7" fill="#4a4a4a" stroke="#2a2a2a" stroke-width="0.9"/>
<circle cx="263.50" cy="251.40" r="1.7" fill="#4a4a4a" stroke="#2a2a2a" stroke-width="0.9"/>
<circle cx="263.50" cy="391.60" r="1.7" fill="#4a4a4a" stroke="#2a2a2a" stroke-width="0.9"/>
<circle cx="263.50" cy="428.20" r="1.7" fill="#4a4a4a" stroke="#2a2a2a" stroke-width="0.9"/>
<circle cx="334.30" cy="110.20" r="1.7" fill="#4a4a4a" stroke="#2a2a2a" stroke-width="0.9"/>
<circle cx="334.30" cy="146.00" r="1.7" fill="#4a4a4a" stroke="#2a2a2a" stroke-width="0.9"/>
<circle cx="334.30" cy="251.40" r="1.7" fill="#4a4a4a" stroke="#2a2a2a" stroke-width="0.9"/>
<circle cx="334.30" cy="391.60" r="1.7" fill="#4a4a4a" stroke="#2a2a2a" stroke-width="0.9"/>
<circle cx="334.30" cy="428.20" r="1.7" fill="#4a4a4a" stroke="#2a2a2a" stroke-width="0.9"/>
<circle cx="263.50" cy="286.60" r="1.7" fill="#4a4a4a" stroke="#2a2a2a" stroke-width="0.9"/>
<circle cx="334.30" cy="286.00" r="1.7" fill="#4a4a4a" stroke="#2a2a2a" stroke-width="0.9"/>
<circle cx="299.00" cy="110.20" r="1.7" fill="#4a4a4a" stroke="#2a2a2a" stroke-width="0.9"/>
<circle cx="299.00" cy="146.00" r="1.7" fill="#4a4a4a" stroke="#2a2a2a" stroke-width="0.9"/>
<circle cx="299.00" cy="251.40" r="1.7" fill="#4a4a4a" stroke="#2a2a2a" stroke-width="0.9"/>
<circle cx="299.50" cy="286.60" r="1.5" fill="#4a4a4a" stroke="#2a2a2a" stroke-width="0.9"/>
<circle cx="439.50" cy="110.80" r="1.7" fill="#4a4a4a" stroke="#2a2a2a" stroke-width="0.9"/>
<circle cx="439.50" cy="146.00" r="1.7" fill="#4a4a4a" stroke="#2a2a2a" stroke-width="0.9"/>
<circle cx="439.50" cy="251.40" r="1.7" fill="#4a4a4a" stroke="#2a2a2a" stroke-width="0.9"/>
<circle cx="439.50" cy="286.00" r="1.7" fill="#4a4a4a" stroke="#2a2a2a" stroke-width="0.9"/>
<circle cx="439.50" cy="391.60" r="1.7" fill="#4a4a4a" stroke="#2a2a2a" stroke-width="0.9"/>
<circle cx="439.50" cy="428.00" r="1.7" fill="#4a4a4a" stroke="#2a2a2a" stroke-width="0.9"/>
<circle cx="299.00" cy="392.00" r="1.5" fill="#4a4a4a" stroke="#2a2a2a" stroke-width="0.9"/>
<circle cx="299.00" cy="428.20" r="1.5" fill="#4a4a4a" stroke="#2a2a2a" stroke-width="0.9"/>
<g transform="translate(157.50,128.90)" stroke="#1c1c1c" stroke-width="1.1" fill="#fff">
<path d="M-42,-15 C-43.7,-6 -43.7,6 -42,15 L-24.5,15.3 C-12,15.3 -5,10 -4.5,0 C-5,-10 -12,-15.3 -24.5,-15.3 Z" stroke-width="0.8" stroke="#444"/>
<path d="M-42.4,-17.5 C-42.4,-22.5 -39.5,-24.7 -35,-24.7 L-28.5,-24.4 C-25,-24.2 -23.6,-22.5 -23.6,-19 L-23.4,-15.5 C-23.4,-12.2 -25,-11 -28.5,-11 L-35,-10.9 C-39.5,-10.9 -42.4,-13 -42.4,-17.5 Z"/>
<path d="M-42.4,17.5 C-42.4,22.5 -39.5,24.7 -35,24.7 L-28.5,24.4 C-25,24.2 -23.6,22.5 -23.6,19 L-23.4,15.5 C-23.4,12.2 -25,11 -28.5,11 L-35,10.9 C-39.5,10.9 -42.4,13 -42.4,17.5 Z"/>
<path d="M-8.4,-13.3 L-5.5,-13.5 C0,-12.8 5.3,-6 7.7,0 C5.3,6 0,12.6 -5.5,13.3 L-8.4,13.1 C-9.6,6 -9.6,-6 -8.4,-13.3 Z"/>
<ellipse cx="-16.4" cy="0" rx="6.4" ry="8.9" stroke-width="1.0"/>
<ellipse cx="-36.4" cy="0" rx="2.7" ry="4.6" stroke-width="0.9"/>
<ellipse cx="-28.6" cy="0" rx="3.2" ry="4.3" stroke-width="0.9"/>
<circle cx="0" cy="0" r="0.9" fill="#111" stroke="none"/>
<circle cx="-34.2" cy="-17.5" r="0.9" fill="#111" stroke="none"/>
<circle cx="-34.2" cy="17.5" r="0.9" fill="#111" stroke="none"/>
</g>
<g transform="translate(158.00,269.00)" stroke="#1c1c1c" stroke-width="1.1" fill="#fff">
<path d="M-42,-15 C-43.7,-6 -43.7,6 -42,15 L-24.5,15.3 C-12,15.3 -5,10 -4.5,0 C-5,-10 -12,-15.3 -24.5,-15.3 Z" stroke-width="0.8" stroke="#444"/>
<path d="M-42.4,-17.5 C-42.4,-22.5 -39.5,-24.7 -35,-24.7 L-28.5,-24.4 C-25,-24.2 -23.6,-22.5 -23.6,-19 L-23.4,-15.5 C-23.4,-12.2 -25,-11 -28.5,-11 L-35,-10.9 C-39.5,-10.9 -42.4,-13 -42.4,-17.5 Z"/>
<path d="M-42.4,17.5 C-42.4,22.5 -39.5,24.7 -35,24.7 L-28.5,24.4 C-25,24.2 -23.6,22.5 -23.6,19 L-23.4,15.5 C-23.4,12.2 -25,11 -28.5,11 L-35,10.9 C-39.5,10.9 -42.4,13 -42.4,17.5 Z"/>
<path d="M-8.4,-13.3 L-5.5,-13.5 C0,-12.8 5.3,-6 7.7,0 C5.3,6 0,12.6 -5.5,13.3 L-8.4,13.1 C-9.6,6 -9.6,-6 -8.4,-13.3 Z"/>
<ellipse cx="-16.4" cy="0" rx="6.4" ry="8.9" stroke-width="1.0"/>
<ellipse cx="-36.4" cy="0" rx="2.7" ry="4.6" stroke-width="0.9"/>
<ellipse cx="-28.6" cy="0" rx="3.2" ry="4.3" stroke-width="0.9"/>
<circle cx="0" cy="0" r="0.9" fill="#111" stroke="none"/>
<circle cx="-34.2" cy="-17.5" r="0.9" fill="#111" stroke="none"/>
<circle cx="-34.2" cy="17.5" r="0.9" fill="#111" stroke="none"/>
</g>
<g transform="translate(157.40,409.40)" stroke="#1c1c1c" stroke-width="1.1" fill="#fff">
<path d="M-42,-15 C-43.7,-6 -43.7,6 -42,15 L-24.5,15.3 C-12,15.3 -5,10 -4.5,0 C-5,-10 -12,-15.3 -24.5,-15.3 Z" stroke-width="0.8" stroke="#444"/>
<path d="M-42.4,-17.5 C-42.4,-22.5 -39.5,-24.7 -35,-24.7 L-28.5,-24.4 C-25,-24.2 -23.6,-22.5 -23.6,-19 L-23.4,-15.5 C-23.4,-12.2 -25,-11 -28.5,-11 L-35,-10.9 C-39.5,-10.9 -42.4,-13 -42.4,-17.5 Z"/>
<path d="M-42.4,17.5 C-42.4,22.5 -39.5,24.7 -35,24.7 L-28.5,24.4 C-25,24.2 -23.6,22.5 -23.6,19 L-23.4,15.5 C-23.4,12.2 -25,11 -28.5,11 L-35,10.9 C-39.5,10.9 -42.4,13 -42.4,17.5 Z"/>
<path d="M-8.4,-13.3 L-5.5,-13.5 C0,-12.8 5.3,-6 7.7,0 C5.3,6 0,12.6 -5.5,13.3 L-8.4,13.1 C-9.6,6 -9.6,-6 -8.4,-13.3 Z"/>
<ellipse cx="-16.4" cy="0" rx="6.4" ry="8.9" stroke-width="1.0"/>
<ellipse cx="-36.4" cy="0" rx="2.7" ry="4.6" stroke-width="0.9"/>
<ellipse cx="-28.6" cy="0" rx="3.2" ry="4.3" stroke-width="0.9"/>
<circle cx="0" cy="0" r="0.9" fill="#111" stroke="none"/>
<circle cx="-34.2" cy="-17.5" r="0.9" fill="#111" stroke="none"/>
<circle cx="-34.2" cy="17.5" r="0.9" fill="#111" stroke="none"/>
</g>
<g transform="translate(440.50,128.20) scale(-1,1)" stroke="#1c1c1c" stroke-width="1.1" fill="#fff">
<path d="M-42,-15 C-43.7,-6 -43.7,6 -42,15 L-24.5,15.3 C-12,15.3 -5,10 -4.5,0 C-5,-10 -12,-15.3 -24.5,-15.3 Z" stroke-width="0.8" stroke="#444"/>
<path d="M-42.4,-17.5 C-42.4,-22.5 -39.5,-24.7 -35,-24.7 L-28.5,-24.4 C-25,-24.2 -23.6,-22.5 -23.6,-19 L-23.4,-15.5 C-23.4,-12.2 -25,-11 -28.5,-11 L-35,-10.9 C-39.5,-10.9 -42.4,-13 -42.4,-17.5 Z"/>
<path d="M-42.4,17.5 C-42.4,22.5 -39.5,24.7 -35,24.7 L-28.5,24.4 C-25,24.2 -23.6,22.5 -23.6,19 L-23.4,15.5 C-23.4,12.2 -25,11 -28.5,11 L-35,10.9 C-39.5,10.9 -42.4,13 -42.4,17.5 Z"/>
<path d="M-8.4,-13.3 L-5.5,-13.5 C0,-12.8 5.3,-6 7.7,0 C5.3,6 0,12.6 -5.5,13.3 L-8.4,13.1 C-9.6,6 -9.6,-6 -8.4,-13.3 Z"/>
<ellipse cx="-16.4" cy="0" rx="6.4" ry="8.9" stroke-width="1.0"/>
<ellipse cx="-36.4" cy="0" rx="2.7" ry="4.6" stroke-width="0.9"/>
<ellipse cx="-28.6" cy="0" rx="3.2" ry="4.3" stroke-width="0.9"/>
<circle cx="0" cy="0" r="0.9" fill="#111" stroke="none"/>
<circle cx="-34.2" cy="-17.5" r="0.9" fill="#111" stroke="none"/>
<circle cx="-34.2" cy="17.5" r="0.9" fill="#111" stroke="none"/>
</g>
<g transform="translate(440.80,268.80) scale(-1,1)" stroke="#1c1c1c" stroke-width="1.1" fill="#fff">
<path d="M-42,-15 C-43.7,-6 -43.7,6 -42,15 L-24.5,15.3 C-12,15.3 -5,10 -4.5,0 C-5,-10 -12,-15.3 -24.5,-15.3 Z" stroke-width="0.8" stroke="#444"/>
<path d="M-42.4,-17.5 C-42.4,-22.5 -39.5,-24.7 -35,-24.7 L-28.5,-24.4 C-25,-24.2 -23.6,-22.5 -23.6,-19 L-23.4,-15.5 C-23.4,-12.2 -25,-11 -28.5,-11 L-35,-10.9 C-39.5,-10.9 -42.4,-13 -42.4,-17.5 Z"/>
<path d="M-42.4,17.5 C-42.4,22.5 -39.5,24.7 -35,24.7 L-28.5,24.4 C-25,24.2 -23.6,22.5 -23.6,19 L-23.4,15.5 C-23.4,12.2 -25,11 -28.5,11 L-35,10.9 C-39.5,10.9 -42.4,13 -42.4,17.5 Z"/>
<path d="M-8.4,-13.3 L-5.5,-13.5 C0,-12.8 5.3,-6 7.7,0 C5.3,6 0,12.6 -5.5,13.3 L-8.4,13.1 C-9.6,6 -9.6,-6 -8.4,-13.3 Z"/>
<ellipse cx="-16.4" cy="0" rx="6.4" ry="8.9" stroke-width="1.0"/>
<ellipse cx="-36.4" cy="0" rx="2.7" ry="4.6" stroke-width="0.9"/>
<ellipse cx="-28.6" cy="0" rx="3.2" ry="4.3" stroke-width="0.9"/>
<circle cx="0" cy="0" r="0.9" fill="#111" stroke="none"/>
<circle cx="-34.2" cy="-17.5" r="0.9" fill="#111" stroke="none"/>
<circle cx="-34.2" cy="17.5" r="0.9" fill="#111" stroke="none"/>
</g>
<g transform="translate(440.70,409.30) scale(-1,1)" stroke="#1c1c1c" stroke-width="1.1" fill="#fff">
<path d="M-42,-15 C-43.7,-6 -43.7,6 -42,15 L-24.5,15.3 C-12,15.3 -5,10 -4.5,0 C-5,-10 -12,-15.3 -24.5,-15.3 Z" stroke-width="0.8" stroke="#444"/>
<path d="M-42.4,-17.5 C-42.4,-22.5 -39.5,-24.7 -35,-24.7 L-28.5,-24.4 C-25,-24.2 -23.6,-22.5 -23.6,-19 L-23.4,-15.5 C-23.4,-12.2 -25,-11 -28.5,-11 L-35,-10.9 C-39.5,-10.9 -42.4,-13 -42.4,-17.5 Z"/>
<path d="M-42.4,17.5 C-42.4,22.5 -39.5,24.7 -35,24.7 L-28.5,24.4 C-25,24.2 -23.6,22.5 -23.6,19 L-23.4,15.5 C-23.4,12.2 -25,11 -28.5,11 L-35,10.9 C-39.5,10.9 -42.4,13 -42.4,17.5 Z"/>
<path d="M-8.4,-13.3 L-5.5,-13.5 C0,-12.8 5.3,-6 7.7,0 C5.3,6 0,12.6 -5.5,13.3 L-8.4,13.1 C-9.6,6 -9.6,-6 -8.4,-13.3 Z"/>
<ellipse cx="-16.4" cy="0" rx="6.4" ry="8.9" stroke-width="1.0"/>
<ellipse cx="-36.4" cy="0" rx="2.7" ry="4.6" stroke-width="0.9"/>
<ellipse cx="-28.6" cy="0" rx="3.2" ry="4.3" stroke-width="0.9"/>
<circle cx="0" cy="0" r="0.9" fill="#111" stroke="none"/>
<circle cx="-34.2" cy="-17.5" r="0.9" fill="#111" stroke="none"/>
<circle cx="-34.2" cy="17.5" r="0.9" fill="#111" stroke="none"/>
</g>
</svg>
</body></html>
